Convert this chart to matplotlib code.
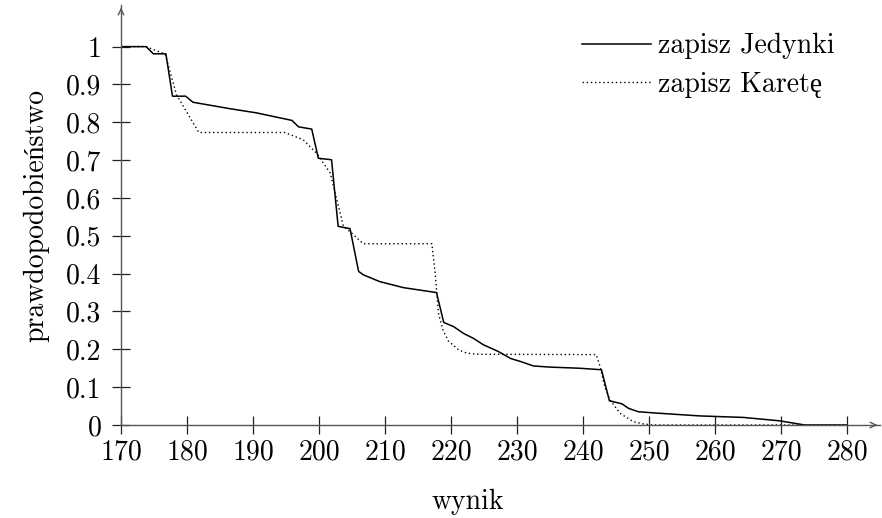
import numpy as np
import matplotlib
matplotlib.use("Agg")
import matplotlib.pyplot as plt
from matplotlib.ticker import FixedLocator, FixedFormatter

plt.rcParams["font.family"] = ["cmr10", "Liberation Serif"]
plt.rcParams["axes.unicode_minus"] = False

# "zapisz Jedynki" curve
jed_x = [170, 173.8, 174.9, 176.8, 177.8, 179.8, 180.9, 186.5, 190.5, 195.9,
         196.9, 198.9, 199.9, 201.9, 202.9, 204.7, 206.0, 206.7, 209.2, 212.8,
         217.8, 218.9, 220.4, 221.9, 223.4, 224.9, 227.2, 229.0, 230.5, 232.5,
         235.0, 239.5, 242.8, 244.0, 245.9, 246.9, 248.4, 250.7, 257.7, 264.3,
         269.8, 273.6, 280]
jed_y = [1.0, 1.0, 0.981, 0.981, 0.869, 0.869, 0.853, 0.836, 0.825, 0.805,
         0.788, 0.782, 0.705, 0.701, 0.525, 0.519, 0.406, 0.397, 0.379, 0.363,
         0.350, 0.271, 0.260, 0.242, 0.229, 0.212, 0.194, 0.176, 0.168, 0.156,
         0.153, 0.150, 0.146, 0.064, 0.056, 0.044, 0.035, 0.032, 0.024, 0.020,
         0.011, 0.0, 0.0]

# "zapisz Karetę" curve
kar_x = [170, 173.8, 176.7, 178.4, 181.8, 194.8, 197.6, 199.6, 201.7, 202.7,
         203.7, 204.7, 206.7, 217.1, 217.6, 218.1, 218.8, 219.6, 220.4, 221.2,
         222.4, 223.9, 242.0, 242.6, 243.3, 244.1, 245.6, 247.6, 249.1, 250.5,
         280]
kar_y = [1.0, 1.0, 0.98, 0.873, 0.773, 0.773, 0.754, 0.719, 0.666, 0.595,
         0.525, 0.511, 0.479, 0.479, 0.401, 0.295, 0.25, 0.222, 0.210, 0.198,
         0.190, 0.187, 0.186, 0.154, 0.101, 0.066, 0.031, 0.009, 0.003, 0.0,
         0.0]

x_ticks = list(range(170, 290, 10))
y_ticks = [0, 0.1, 0.2, 0.3, 0.4, 0.5, 0.6, 0.7, 0.8, 0.9, 1]
y_labels = ["0", "0.1", "0.2", "0.3", "0.4", "0.5", "0.6", "0.7", "0.8", "0.9", "1"]

fig = plt.figure(figsize=(8.82, 5.18), dpi=100)
ax = fig.add_axes([121 / 882, 93 / 518, (880 - 121) / 882, (425 - 5) / 518])

ax.plot(jed_x, jed_y, color="black", lw=1.1, label="zapisz Jedynki")
ax.plot(kar_x, kar_y, color="black", lw=1.0, ls=(0, (1, 2)), label="zapisz Karetę")

ax.set_xlim(170, 285)
ax.set_ylim(0, 1.11)

for s in ("top", "right"):
    ax.spines[s].set_visible(False)
for s in ("left", "bottom"):
    ax.spines[s].set_color("#555555")
    ax.spines[s].set_linewidth(1.0)

# arrow heads at the axis ends
ax.annotate("", xy=(1.0, 0), xytext=(0.99, 0), xycoords="axes fraction",
            arrowprops=dict(arrowstyle="->", color="#555555", lw=1.0))
ax.annotate("", xy=(0, 1.0), xytext=(0, 0.98), xycoords="axes fraction",
            arrowprops=dict(arrowstyle="->", color="#555555", lw=1.0))

ax.xaxis.set_major_locator(FixedLocator(x_ticks))
ax.yaxis.set_major_locator(FixedLocator(y_ticks))
ax.yaxis.set_major_formatter(FixedFormatter(y_labels))
ax.tick_params(direction="inout", length=13, width=0.9, color="#222222",
               labelsize=20)
ax.tick_params(axis="y", pad=7.5)
ax.tick_params(axis="x", pad=4)

ax.set_xlabel("wynik", fontsize=20)
ax.xaxis.set_label_coords(0.457, -0.152)
ax.set_ylabel("prawdopodobieństwo", fontsize=20, labelpad=12)

ax.legend(loc="upper left", bbox_to_anchor=((582 - 121) / 759, (425 - 33) / 420),
          frameon=False, fontsize=20, handlelength=2.5, handletextpad=0.25,
          borderpad=0, borderaxespad=0, labelspacing=0.45)

fig.savefig("out.png", dpi=100)
